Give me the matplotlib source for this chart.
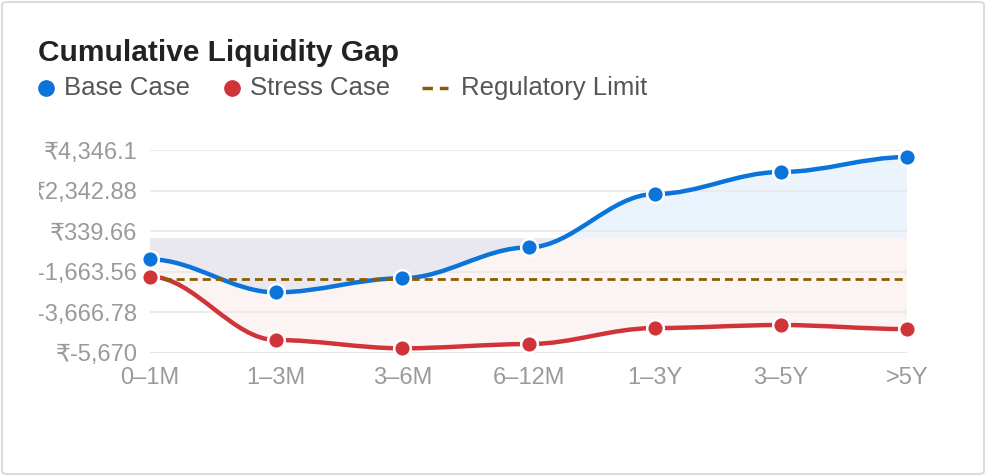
import matplotlib
matplotlib.use("Agg")
import matplotlib.pyplot as plt
import numpy as np
from matplotlib.lines import Line2D
from matplotlib.patches import FancyBboxPatch, PathPatch
from matplotlib.path import Path
from matplotlib.transforms import Bbox, TransformedBbox

plt.rcParams['font.family'] = ['Liberation Sans', 'DejaVu Sans']

buckets = ["0–1M", "1–3M", "3–6M", "6–12M", "1–3Y", "3–5Y", ">5Y"]
base_case = [-1050, -2680, -1980, -460, 2170, 3260, 4000]
stress_case = [-1900, -5030, -5440, -5230, -4440, -4290, -4490]
reg_limit = -2020
y_ticks = [-5670, -3666.78, -1663.56, 339.66, 2342.88, 4346.1]
y_labels = ["₹-5,670", "₹-3,666.78", "₹-1,663.56", "₹339.66", "₹2,342.88", "₹4,346.1"]

BLUE = "#0a74da"
RED = "#d13438"
BROWN = "#8a5d00"

fig = plt.figure(figsize=(9.86, 4.76), dpi=100)
fig.patch.set_facecolor("white")
fig.add_artist(FancyBboxPatch((2 / 986, 2 / 476), 982 / 986, 472 / 476,
                              boxstyle="round,pad=0,rounding_size=0.006",
                              transform=fig.transFigure, facecolor="none",
                              edgecolor="#dcdcdc", lw=1.5, zorder=-1))

ax = fig.add_axes([150 / 986, 1 - 353 / 476, 757 / 986, 203 / 476])
ax.set_facecolor("none")
x = np.arange(len(buckets))
ax.set_xlim(0, len(buckets) - 1)
ax.set_ylim(y_ticks[0], y_ticks[-1])


def smooth_verts(xs, ys, k=0.35):
    # each segment is a cubic with flat ends (control points level with the points)
    verts = [(xs[0], ys[0])]
    for i in range(1, len(xs)):
        dx = xs[i] - xs[i - 1]
        verts += [(xs[i - 1] + k * dx, ys[i - 1]), (xs[i] - k * dx, ys[i]), (xs[i], ys[i])]
    return np.array(verts, float)


def add_series(vals, color, alpha):
    v = smooth_verts(x, vals)
    codes = [Path.MOVETO] + [Path.CURVE4] * (len(v) - 1)
    ax.add_patch(PathPatch(Path(v, codes), fill=False, edgecolor=color, lw=3.2,
                           capstyle="round", joinstyle="round", zorder=3))
    fv = np.vstack([v, [[x[-1], 0], [x[0], 0], [x[0], 0]]])
    fcodes = codes + [Path.LINETO, Path.LINETO, Path.CLOSEPOLY]
    ax.add_patch(PathPatch(Path(fv, fcodes), facecolor=color, alpha=alpha, lw=0, zorder=1))
    ax.plot(x, vals, "o", color=color, ms=12, mec="white", mew=1.8, zorder=5, clip_on=False)


add_series(base_case, BLUE, 0.08)
add_series(stress_case, RED, 0.06)
ax.plot([x[0], x[-1]], [reg_limit, reg_limit], color=BROWN, lw=2, dashes=(2.9, 1.8), zorder=4)

ax.set_yticks(y_ticks)
ax.set_yticklabels(y_labels)
ax.set_xticks(x)
ax.set_xticklabels(buckets)
ax.grid(axis="y", color="#e8e8e8", lw=1.2, zorder=0)
ax.tick_params(axis="both", length=0, labelsize=17, labelcolor="#9a9a9a")
ax.tick_params(axis="y", pad=9)
ax.tick_params(axis="x", pad=10)
for s in ax.spines.values():
    s.set_visible(False)
ax.axhline(y_ticks[0], color="#d8d8d8", lw=1.5, zorder=0)

clip = TransformedBbox(Bbox([[39 / 986, 0], [1, 1]]), fig.transFigure)
for t in ax.yaxis.get_major_ticks():
    t.label1.set_clip_box(clip)
    t.label1.set_clip_on(True)

fig.text(38 / 986, 1 - 61 / 476, "Cumulative Liquidity Gap", fontsize=21.5, fontweight="bold",
         color="#222222", va="baseline")

ly = 1 - 88 / 476
fig.add_artist(Line2D([46 / 986], [ly], marker="o", ms=11, color=BLUE, transform=fig.transFigure))
fig.text(64 / 986, ly, "Base Case", fontsize=18.5, color="#555555", va="center")
fig.add_artist(Line2D([232 / 986], [ly], marker="o", ms=11, color=RED, transform=fig.transFigure))
fig.text(250 / 986, ly, "Stress Case", fontsize=18.5, color="#555555", va="center")
fig.add_artist(Line2D([422 / 986, 448 / 986], [ly, ly], color=BROWN, lw=2.5, dashes=(3, 2),
                      transform=fig.transFigure))
fig.text(461 / 986, ly, "Regulatory Limit", fontsize=18.5, color="#555555", va="center")

fig.savefig("out.png", dpi=100)
